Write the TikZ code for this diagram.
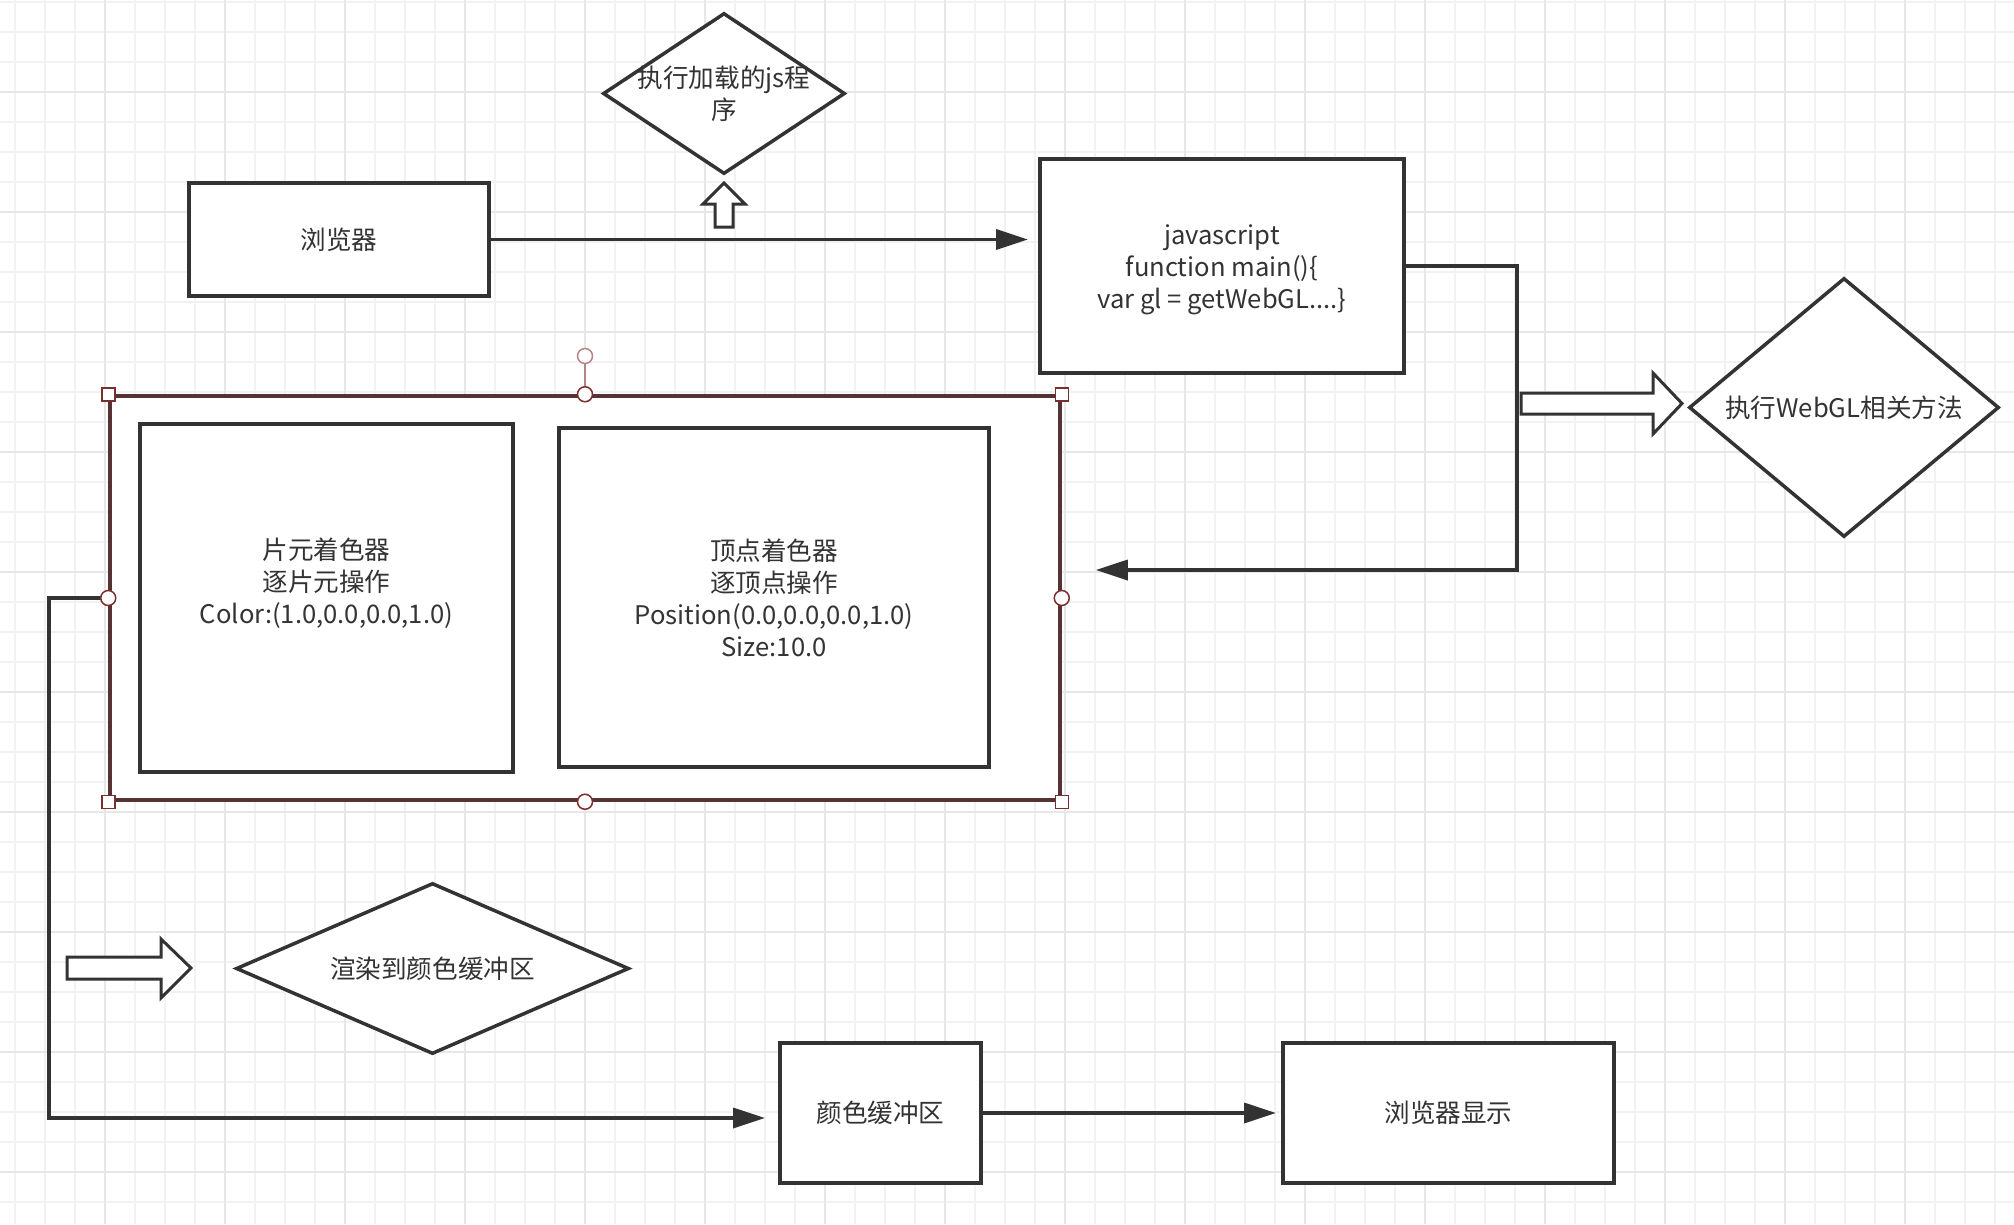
\documentclass[tikz,border=0pt]{standalone}
\usepackage{fontspec}
\setmainfont{Noto Sans CJK SC}
\usetikzlibrary{shapes.geometric,arrows.meta}

\definecolor{linegray}{HTML}{333333}
\definecolor{gridminor}{HTML}{F2F2F2}
\definecolor{gridmajor}{HTML}{E7E7E7}
\definecolor{selred}{HTML}{7A2E2E}
\definecolor{groupline}{HTML}{553333}
\definecolor{rotred}{HTML}{B58585}

\tikzset{
  box/.style={rectangle, draw=linegray, line width=4pt, fill=white},
  dia/.style={diamond, draw=linegray, line width=3.5pt, fill=white, inner sep=0pt},
  txt/.style={text=linegray, font=\fontsize{25.6}{32}\selectfont, align=center},
  conn/.style={draw=linegray, line width=3.5pt, -{Triangle[length=32pt,width=20pt]}},
  blockarrow/.style={draw=linegray, line width=3pt, fill=white, line join=miter},
  handlesq/.style={rectangle, draw=selred, line width=1.5pt, fill=white, minimum size=13pt, inner sep=0pt},
  handlecirc/.style={circle, draw=selred, line width=1.5pt, fill=white, minimum size=15pt, inner sep=0pt},
}

\begin{document}
\begin{tikzpicture}[x=1pt,y=1pt,yscale=-1,xscale=1]

            % Background grid
            \fill[white] (0,0) rectangle (2014,1224);
            \useasboundingbox (0,0) rectangle (2014,1224);
            \foreach \gx in {15,45,...,2014} \draw[gridminor, line width=2pt] (\gx,0) -- (\gx,1224);
            \foreach \gy in {2,32,...,1224} \draw[gridminor, line width=2pt] (0,\gy) -- (2014,\gy);
            \foreach \gx in {105,225,...,2014} \draw[gridmajor, line width=2.5pt] (\gx,0) -- (\gx,1224);
            \foreach \gy in {92,212,...,1224} \draw[gridmajor, line width=2.5pt] (0,\gy) -- (2014,\gy);

            % Top row
            \node[box, txt, minimum width=300pt, minimum height=113pt] (browser) at (339,239.5) {浏览器};
            \node[box, minimum width=364pt, minimum height=214pt, label={[txt, yshift=-4pt]center:{javascript\\function main()\{\\var gl = getWebGL....\}}}] (js) at (1222,266) {};
            \node[dia, minimum width=242pt, minimum height=161pt, label={[txt]center:{执行加载的js程\\序}}] (jsload) at (724,93.5) {};
            \node[dia, minimum width=310pt, minimum height=259pt, label={[txt]center:{执行WebGL相关方法}}] (webgl) at (1844,407.5) {};

            % Shader group
            \node[rectangle, draw=groupline, line width=3.5pt, fill=white, minimum width=950pt, minimum height=404pt] (group) at (585,598) {};
            \node[box, minimum width=373pt, minimum height=348pt, label={[txt, yshift=15pt]center:{片元着色器\\逐片元操作\\Color:(1.0,0.0,0.0,1.0)}}] (frag) at (326.5,598) {};
            \node[box, txt, minimum width=430pt, minimum height=339pt] (vert) at (774,597.5) {顶点着色器\\逐顶点操作\\Position(0.0,0.0,0.0,1.0)\\Size:10.0};

            % Bottom row
            \node[dia, minimum width=393pt, minimum height=171pt, label={[txt]center:{渲染到颜色缓冲区}}] (render) at (432.5,968.5) {};
            \node[box, txt, minimum width=201pt, minimum height=140pt] (buffer) at (880.5,1113) {颜色缓冲区};
            \node[box, txt, minimum width=331pt, minimum height=140pt] (show) at (1448.5,1113) {浏览器显示};

            % Turning points
            \coordinate (jsturn) at (1517,570);
            \coordinate (fragturn) at (49,1118);

            % Connectors
            \draw[conn, shorten >=10pt] (browser.east) -- (browser.east -| js.west);
            \draw[conn, shorten >=34pt] (js.east) -| (jsturn) -- (jsturn -| group.east);
            \draw[conn, shorten >=13pt] (group.west) -| (fragturn) -- (fragturn -| buffer.west);
            \draw[conn, shorten >=5pt] (buffer.east) -- (show.west);

            % Block arrows
            \draw[blockarrow] (715,227) -- (715,204) -- (703,204) -- (724,183) -- (745,204) -- (733,204) -- (733,227) -- cycle;
            \draw[blockarrow] (1521,393) -- (1653,393) -- (1653,373) -- (1682,403.5) -- (1653,434) -- (1653,414) -- (1521,414) -- cycle;
            \draw[blockarrow] (67,957) -- (161,957) -- (161,939) -- (191,968) -- (161,998) -- (161,979) -- (67,979) -- cycle;

            % Selection handles
            \node[handlecirc, draw=rotred] (hrot) at (585,356) {};
            \draw[rotred, line width=1.5pt] (hrot) -- (group.north);
            \node[handlesq] (hnw) at (group.north west) {};
            \node[handlesq] (hne) at (group.north east) {};
            \node[handlesq] (hsw) at (group.south west) {};
            \node[handlesq] (hse) at (group.south east) {};
            \node[handlecirc] (hn) at (group.north) {};
            \node[handlecirc] (hs) at (group.south) {};
            \node[handlecirc] (hw) at (group.west) {};
            \node[handlecirc] (he) at (group.east) {};

\end{tikzpicture}
\end{document}
